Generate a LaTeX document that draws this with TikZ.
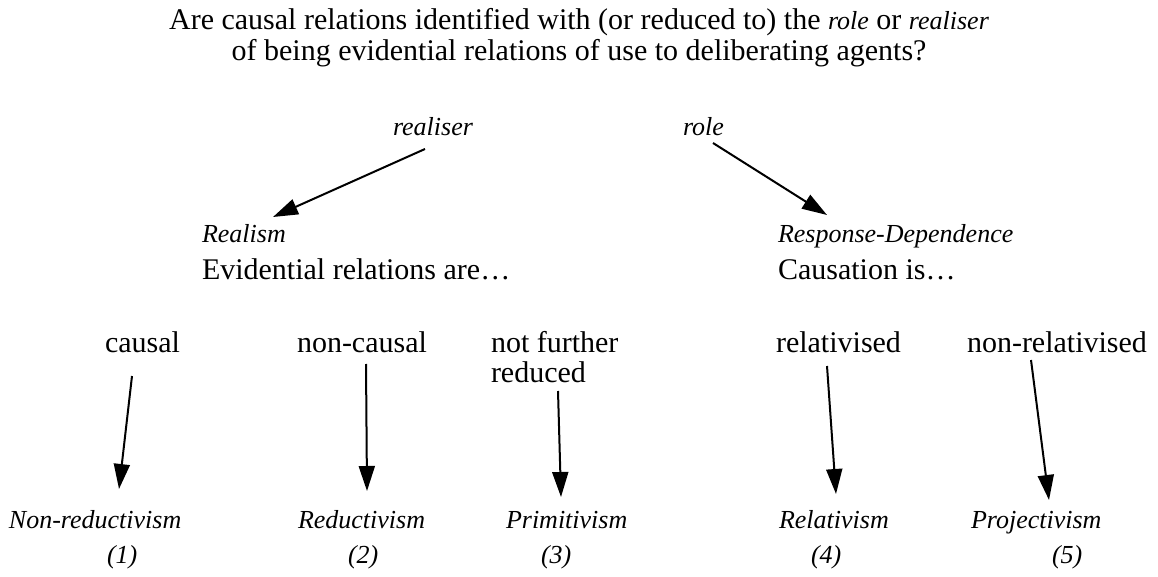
\documentclass[tikz,border=0pt]{standalone}
\usepackage{fontspec}
\setmainfont{Liberation Serif}
\usetikzlibrary{arrows.meta,calc}
\begin{document}
\begin{tikzpicture}[x=1pt,y=-1pt,
  txt/.style={inner sep=0pt,outer sep=0pt,font=\fontsize{30}{30}\selectfont},
  itx/.style={inner sep=0pt,outer sep=0pt,font=\fontsize{26}{26}\selectfont\itshape},
  arr/.style={line width=2pt,-{Triangle[length=25pt,width=16pt]}}]
\useasboundingbox (0,0) rectangle (1158,577);
% title
\node[txt,anchor=base] (t1) at (579,30) {Are causal relations identified with (or reduced to) the {\fontsize{26}{26}\selectfont\itshape role} or {\fontsize{26}{26}\selectfont\itshape realiser}};
\node[txt,anchor=base] (t2) at (579,61) {of being evidential relations of use to deliberating agents?};
% second level labels
\node[itx,anchor=base west] (realiser) at (393,136) {realiser};
\node[itx,anchor=base west] (role) at (683,136) {role};
% middle
\node[itx,anchor=base west] (realism) at (202,243) {Realism};
\node[txt,anchor=base west] (evid) at (202,279) {Evidential relations are…};
\node[itx,anchor=base west] (respdep) at (778,243) {Response-Dependence};
\node[txt,anchor=base west] (causis) at (778,279) {Causation is…};
% third row
\node[txt,anchor=base west] (causal) at (105,352) {causal};
\node[txt,anchor=base west] (noncausal) at (297,352) {non-causal};
\node[txt,anchor=base west] (notfurther) at (491,352) {not further};
\node[txt,anchor=base west] (reduced) at (491,382) {reduced};
\node[txt,anchor=base west] (relativised) at (776,352) {relativised};
\node[txt,anchor=base west] (nonrel) at (967,352) {non-relativised};
% bottom
\node[itx,anchor=base west] (nonred) at (9,528) {Non-reductivism};
\node[itx,anchor=base west] (reductivism) at (298,528) {Reductivism};
\node[itx,anchor=base west] (primitivism) at (506,528) {Primitivism};
\node[itx,anchor=base west] (relativism) at (779,528) {Relativism};
\node[itx,anchor=base west] (projectivism) at (971,528) {Projectivism};
\node[itx,anchor=base west] (n1) at (107,563) {(1)};
\node[itx,anchor=base west] (n2) at (348,563) {(2)};
\node[itx,anchor=base west] (n3) at (541,563) {(3)};
\node[itx,anchor=base west] (n4) at (811,563) {(4)};
\node[itx,anchor=base west] (n5) at (1052,563) {(5)};
% arrows
\draw[arr] ($(realiser.base west)+(32,13)$) -- ($(realism.base west)+(71,-26)$);
\draw[arr] ($(role.base west)+(30,7)$) -- ($(respdep.base west)+(49,-28)$);
\draw[arr] ($(causal.base west)+(27,24)$) -- ($(nonred.base west)+(110,-39)$);
\draw[arr] ($(noncausal.base west)+(69,12)$) -- ($(reductivism.base west)+(69,-37)$);
\draw[arr] ($(reduced.base west)+(67,9)$) -- ($(primitivism.base west)+(55,-31)$);
\draw[arr] ($(relativised.base west)+(51,14)$) -- ($(relativism.base west)+(57,-34)$);
\draw[arr] ($(nonrel.base west)+(64,8)$) -- ($(projectivism.base west)+(78,-28)$);
\end{tikzpicture}
\end{document}
